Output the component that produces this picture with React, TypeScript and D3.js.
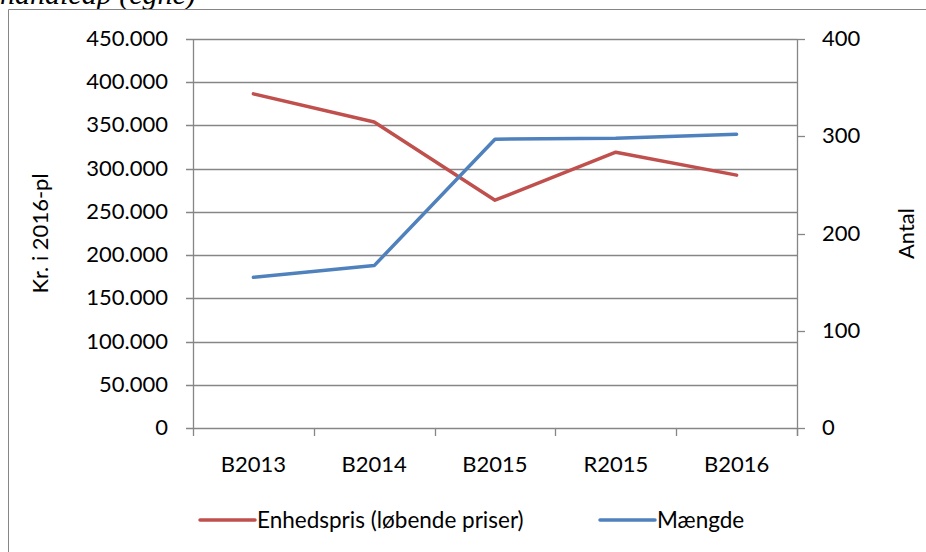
import React, { useRef, useEffect } from 'react';
import * as d3 from 'd3';

const categories = ['B2013', 'B2014', 'B2015', 'R2015', 'B2016'];
const enhedspris = [386500, 354000, 263500, 319000, 292500];
const maengde = [155, 167, 297, 298, 302];
const leftTicks = [0, 50000, 100000, 150000, 200000, 250000, 300000, 350000, 400000, 450000];
const rightTicks = [0, 100, 200, 300, 400];
const seriesNames = ['Enhedspris (løbende priser)', 'Mængde'];
const colors = ['#C0504D', '#4F81BD'];

const App = () => {
  const ref = useRef<HTMLDivElement>(null);

  useEffect(() => {
    const width = 926;
    const height = 552;
    const plot = { left: 193, right: 797, top: 39, bottom: 428 };
    const font = 'Lato, "Open Sans", sans-serif';
    const grey = '#868686';

    const root = d3.select(ref.current);
    root.selectAll('*').remove();
    const svg = root.append('svg')
      .attr('width', width)
      .attr('height', height)
      .style('display', 'block')
      .style('background', '#fff');

    // caption from the page above, cut off at the top edge
    svg.append('text')
      .attr('x', 0)
      .attr('y', 4)
      .attr('font-family', '"Liberation Serif", serif')
      .attr('font-style', 'italic')
      .attr('font-size', 30)
      .attr('fill', '#000')
      .text('handicap (egne)');

    // chart frame
    svg.append('path')
      .attr('d', `M8.5,${height} V9.5 H${width}`)
      .attr('fill', 'none')
      .attr('stroke', grey)
      .attr('stroke-width', 1);

    const x = d3.scaleBand().domain(categories).range([plot.left, plot.right]);
    const yL = d3.scaleLinear().domain([0, 450000]).range([plot.bottom, plot.top]);
    const yR = d3.scaleLinear().domain([0, 400]).range([plot.bottom, plot.top]);
    const fmt = (v: number) => d3.format(',')(v).replace(/,/g, '.');

    // gridlines
    svg.append('g')
      .selectAll('line')
      .data(leftTicks)
      .join('line')
      .attr('x1', plot.left - 7)
      .attr('x2', plot.right)
      .attr('y1', d => Math.round(yL(d)) + 0.5)
      .attr('y2', d => Math.round(yL(d)) + 0.5)
      .attr('stroke', grey)
      .attr('stroke-width', 1.3);

    svg.append('g')
      .selectAll('text')
      .data(leftTicks)
      .join('text')
      .attr('x', 168)
      .attr('y', d => yL(d) + 7)
      .attr('text-anchor', 'end')
      .attr('font-family', font)
      .attr('font-size', 22)
      .attr('fill', '#000')
      .text(d => fmt(d));

    // axes lines
    svg.append('line')
      .attr('x1', plot.left + 0.5).attr('x2', plot.left + 0.5)
      .attr('y1', plot.top).attr('y2', plot.bottom)
      .attr('stroke', grey).attr('stroke-width', 1.3);
    svg.append('line')
      .attr('x1', plot.right + 0.5).attr('x2', plot.right + 0.5)
      .attr('y1', plot.top).attr('y2', plot.bottom + 8)
      .attr('stroke', grey).attr('stroke-width', 1.3);

    // category ticks
    const bounds = categories.map(c => x(c) as number).concat([plot.right]);
    svg.append('g')
      .selectAll('line')
      .data(bounds)
      .join('line')
      .attr('x1', d => Math.round(d) + 0.5)
      .attr('x2', d => Math.round(d) + 0.5)
      .attr('y1', plot.bottom)
      .attr('y2', plot.bottom + 8)
      .attr('stroke', grey)
      .attr('stroke-width', 1.3);

    svg.append('g')
      .selectAll('text')
      .data(categories)
      .join('text')
      .attr('x', d => (x(d) as number) + x.bandwidth() / 2)
      .attr('y', 472)
      .attr('text-anchor', 'middle')
      .attr('font-family', font)
      .attr('font-size', 22)
      .attr('fill', '#000')
      .text(d => d);

    // right axis ticks
    svg.append('g')
      .selectAll('line')
      .data(rightTicks)
      .join('line')
      .attr('x1', plot.right)
      .attr('x2', plot.right + 8)
      .attr('y1', d => Math.round(yR(d)) + 0.5)
      .attr('y2', d => Math.round(yR(d)) + 0.5)
      .attr('stroke', grey)
      .attr('stroke-width', 1.3);

    svg.append('g')
      .selectAll('text')
      .data(rightTicks)
      .join('text')
      .attr('x', 822)
      .attr('y', d => yR(d) + 7)
      .attr('font-family', font)
      .attr('font-size', 22)
      .attr('fill', '#000')
      .text(d => d);

    // axis titles
    svg.append('text')
      .attr('transform', `translate(48,${(plot.top + plot.bottom) / 2}) rotate(-90)`)
      .attr('text-anchor', 'middle')
      .attr('font-family', font)
      .attr('font-size', 22)
      .attr('fill', '#000')
      .text('Kr. i 2016-pl');
    svg.append('text')
      .attr('transform', `translate(914,${(plot.top + plot.bottom) / 2}) rotate(-90)`)
      .attr('text-anchor', 'middle')
      .attr('font-family', font)
      .attr('font-size', 22)
      .attr('fill', '#000')
      .text('Antal');

    // series lines
    const cx = (i: number) => (x(categories[i]) as number) + x.bandwidth() / 2;
    const lineL = d3.line<number>().x((d, i) => cx(i)).y(d => yL(d));
    const lineR = d3.line<number>().x((d, i) => cx(i)).y(d => yR(d));

    svg.append('path')
      .attr('d', lineL(enhedspris))
      .attr('fill', 'none')
      .attr('stroke', colors[0])
      .attr('stroke-width', 3.5)
      .attr('stroke-linejoin', 'round')
      .attr('stroke-linecap', 'round');
    svg.append('path')
      .attr('d', lineR(maengde))
      .attr('fill', 'none')
      .attr('stroke', colors[1])
      .attr('stroke-width', 3.5)
      .attr('stroke-linejoin', 'round')
      .attr('stroke-linecap', 'round');

    // legend
    const legendX = [200, 600];
    const legend = svg.append('g')
      .selectAll('g')
      .data(seriesNames)
      .join('g')
      .attr('transform', (d, i) => `translate(${legendX[i]},520)`);
    legend.append('line')
      .attr('x1', 0).attr('x2', 55)
      .attr('y1', 0).attr('y2', 0)
      .attr('stroke', (d, i) => colors[i])
      .attr('stroke-width', 3.5)
      .attr('stroke-linecap', 'round');
    legend.append('text')
      .attr('x', 57)
      .attr('y', 8)
      .attr('font-family', font)
      .attr('font-size', 22.5)
      .attr('fill', '#000')
      .text(d => d);
  }, []);

  return (
    <div ref={ref} style={{ position: 'absolute', left: 0, top: 0, width: 926, height: 552 }} />
  );
};

export default App;
